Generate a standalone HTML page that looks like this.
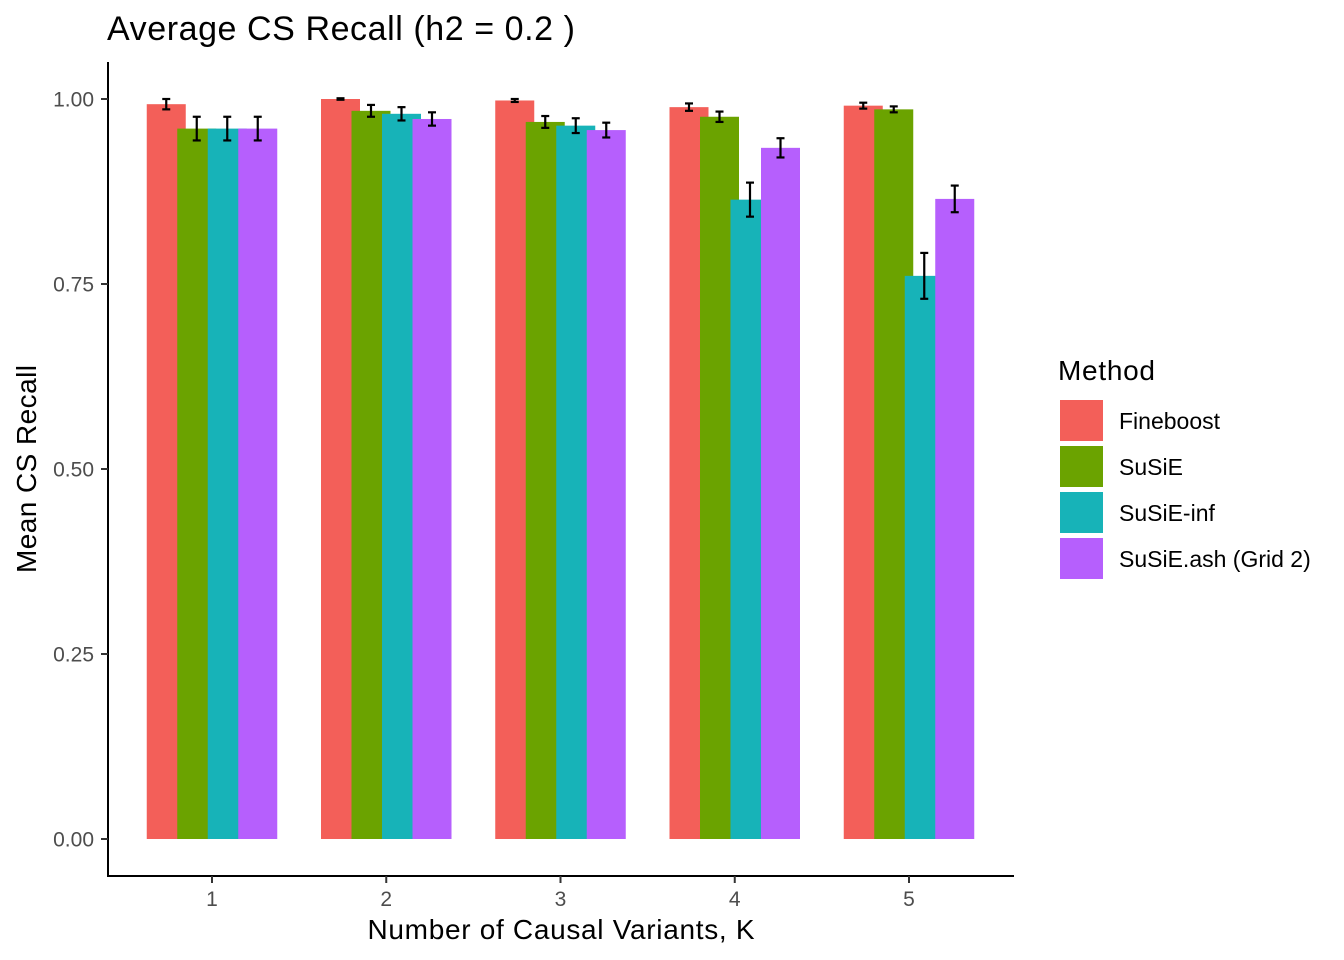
<!DOCTYPE html>
<html><head><meta charset="utf-8"><style>
html,body{margin:0;padding:0;background:#fff;}
svg{display:block;font-family:"Liberation Sans",Arial,sans-serif;}
</style></head><body>
<svg id="chart" width="1344" height="960" viewBox="0 0 1344 960">
<text x="107" y="40" font-size="34" fill="#000" textLength="468">Average CS Recall (h2 = 0.2 )</text>
<g id="bars"></g>
<g id="errs"></g>
<g id="axes"></g>
<text x="561" y="939" font-size="28" text-anchor="middle" fill="#000" textLength="387">Number of Causal Variants, K</text>
<text transform="translate(36,469) rotate(-90)" font-size="28" text-anchor="middle" fill="#000" textLength="208">Mean CS Recall</text>
<g id="legend">
<text x="1058" y="380" font-size="28" fill="#000" textLength="97">Method</text>
</g>
</svg>
<script>
const categories = ["1","2","3","4","5"];
const methods = ["Fineboost","SuSiE","SuSiE-inf","SuSiE.ash (Grid 2)"];
const fineboost = [0.993,1.000,0.998,0.989,0.991];
const fineboostErr = [0.007,0.001,0.002,0.005,0.004];
const susie = [0.960,0.984,0.969,0.976,0.986];
const susieErr = [0.016,0.008,0.008,0.007,0.004];
const susieInf = [0.960,0.980,0.964,0.864,0.761];
const susieInfErr = [0.016,0.009,0.010,0.023,0.031];
const susieAsh = [0.960,0.973,0.958,0.934,0.865];
const susieAshErr = [0.016,0.009,0.010,0.013,0.018];
const yTicks = [0,0.25,0.5,0.75,1.0];
const yTickLabels = ["0.00","0.25","0.50","0.75","1.00"];

const series = [fineboost,susie,susieInf,susieAsh];
const errs = [fineboostErr,susieErr,susieInfErr,susieAshErr];
const NS="http://www.w3.org/2000/svg";
const barColors = ["#F35F59","#6BA300","#17B3B8","#B65FFD"];
function y(v){return 839 - v*740;}
function x(i){return 212 + i*174.25;}
function mk(tag,attrs,parent){const e=document.createElementNS(NS,tag);for(const k in attrs)e.setAttribute(k,attrs[k]);parent.appendChild(e);return e;}
const gb=document.getElementById('bars'), ge=document.getElementById('errs'), ga=document.getElementById('axes'), gl=document.getElementById('legend');
const off=30.5, bw=39;
categories.forEach((c,i)=>{
  series.forEach((s,j)=>{
    const cx=x(i)+(j-1.5)*off;
    const r=mk('rect',{x:cx-bw/2,y:y(s[i]),width:bw,height:y(0)-y(s[i]),fill:barColors[j]},gb);
    
    
    const lo=y(s[i]-errs[j][i]), hi=y(Math.min(1.0+0.0015,s[i]+errs[j][i]));
    const eg=mk('g',{stroke:'#000','stroke-width':2.2,fill:'none'},ge);
    
    
    mk('line',{x1:cx,x2:cx,y1:lo,y2:hi},eg);
    mk('line',{x1:cx-4,x2:cx+4,y1:lo,y2:lo},eg);
    mk('line',{x1:cx-4,x2:cx+4,y1:hi,y2:hi},eg);
  });
});
mk('line',{x1:108,x2:108,y1:62,y2:877,stroke:'#000','stroke-width':2},ga);
mk('line',{x1:107,x2:1014,y1:876,y2:876,stroke:'#000','stroke-width':2},ga);
yTicks.forEach((t,i)=>{
  mk('line',{x1:101,x2:108,y1:y(t),y2:y(t),stroke:'#333','stroke-width':2},ga);
  const tx=mk('text',{x:94,y:y(t)+7.5,'font-size':21,'text-anchor':'end',fill:'#4D4D4D'},ga);
  tx.textContent=yTickLabels[i];
  
  
});
categories.forEach((c,i)=>{
  mk('line',{x1:x(i),x2:x(i),y1:876,y2:883,stroke:'#333','stroke-width':2},ga);
  const tx=mk('text',{x:x(i),y:906,'font-size':21,'text-anchor':'middle',fill:'#4D4D4D'},ga);
  tx.textContent=c;
  
  
});
methods.forEach((m,j)=>{
  const ky=400+j*46;
  const r=mk('rect',{x:1060,y:ky,width:43,height:41,fill:barColors[j]},gl);
  
  
  const t=mk('text',{x:1119,y:ky+29,'font-size':23,fill:'#000'},gl);
  t.textContent=m;
  
  
});
</script>
</body></html>
